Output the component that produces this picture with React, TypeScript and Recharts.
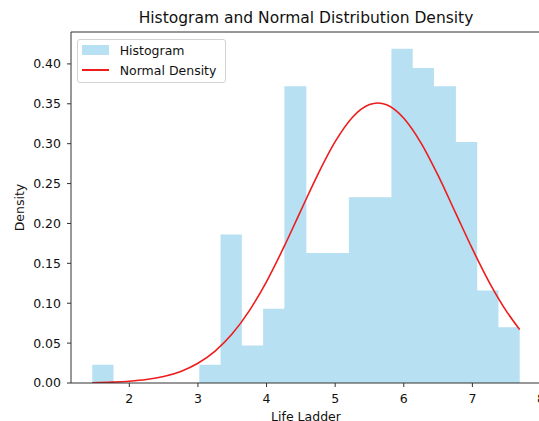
import { ComposedChart, Area, Line, XAxis, YAxis, ReferenceLine, Legend, Label } from "recharts";

// histogram bin edges (Life Ladder) and density per bin
const binEdges = [1.46, 1.77, 2.08, 2.39, 2.71, 3.02, 3.33, 3.64, 3.95, 4.26, 4.58, 4.89, 5.2, 5.51, 5.82, 6.13, 6.44, 6.76, 7.07, 7.38, 7.69];
const binDensity = [0.023, 0, 0, 0, 0, 0.023, 0.186, 0.047, 0.093, 0.372, 0.163, 0.163, 0.233, 0.233, 0.419, 0.395, 0.372, 0.302, 0.116, 0.07];

// normal density curve, sampled along the red line
const curveX = [1.46, 1.75, 2.0, 2.25, 2.5, 2.75, 3.0, 3.25, 3.5, 3.75, 4.0, 4.25, 4.5, 4.75, 5.0, 5.25, 5.5, 5.62, 5.75, 6.0, 6.25, 6.5, 6.75, 7.0, 7.25, 7.5, 7.69];
const curveY = [0.0004, 0.0011, 0.0022, 0.0043, 0.0081, 0.0145, 0.0247, 0.04, 0.0617, 0.0908, 0.1272, 0.1699, 0.2161, 0.2619, 0.3025, 0.3329, 0.349, 0.351, 0.3487, 0.3319, 0.3011, 0.2602, 0.2142, 0.1681, 0.1256, 0.0895, 0.0669];

const xTicks = [2, 3, 4, 5, 6, 7, 8];
const yTicks = [0, 0.05, 0.1, 0.15, 0.2, 0.25, 0.3, 0.35, 0.4];

const FONT = "'DejaVu Sans', sans-serif";
const HIST_COLOR = "#b7e0f2";
const LINE_COLOR = "#ee1c1c";
const SPINE = "#333";

const histData = binEdges.map((x, i) => ({ x, density: i < binDensity.length ? binDensity[i] : 0 }));
const curveData = curveX.map((x, i) => ({ x, y: curveY[i] }));

const LegendBox = () => (
  <div
    style={{
      position: "relative",
      width: 149,
      height: 44,
      boxSizing: "border-box",
      border: "1px solid #d2d2d2",
      borderRadius: 3,
      background: "rgba(255,255,255,0.8)",
      fontFamily: FONT,
      fontSize: 12.5,
      color: "#111",
    }}
  >
    <div style={{ position: "absolute", left: 4.4, top: 5.4, width: 26.3, height: 9.3, background: HIST_COLOR }} />
    <div style={{ position: "absolute", left: 41.7, top: 3.1, lineHeight: "15px", whiteSpace: "nowrap" }}>Histogram</div>
    <div style={{ position: "absolute", left: 4.4, top: 29.2, width: 26.3, height: 1.6, background: LINE_COLOR }} />
    <div style={{ position: "absolute", left: 41.7, top: 22.7, lineHeight: "15px", whiteSpace: "nowrap" }}>Normal Density</div>
  </div>
);

const YLabel = (props: any) => {
  const vb = props.viewBox;
  const x = vb.x + 13;
  const y = vb.y + vb.height / 2;
  return (
    <text x={x} y={y} transform={`rotate(-90, ${x}, ${y})`} textAnchor="middle" fontSize={12.5} fill="#111" fontFamily={FONT}>
      Density
    </text>
  );
};

export default function App() {
  return (
    <div style={{ position: "absolute", left: 0, top: 0, width: 539, height: 421, overflow: "hidden", background: "#fff", fontFamily: FONT }}>
      <div
        style={{
          position: "absolute",
          left: 0,
          width: 612,
          top: 8.6,
          textAlign: "center",
          fontSize: 15.5,
          lineHeight: "18px",
          color: "#111",
          whiteSpace: "nowrap",
        }}
      >
        Histogram and Normal Distribution Density
      </div>
      <ComposedChart width={560} height={421} margin={{ top: 32, right: 19, bottom: 0, left: 11 }}>
        <XAxis
          dataKey="x"
          type="number"
          domain={[1.15, 8.0]}
          ticks={xTicks}
          allowDataOverflow
          height={38}
          tickSize={4}
          tickMargin={7}
          axisLine={{ stroke: SPINE }}
          tickLine={{ stroke: SPINE }}
          tick={{ fill: "#111", fontSize: 12.5, fontFamily: FONT }}
        >
          <Label value="Life Ladder" position="insideBottom" offset={0} fontSize={12.5} fill="#111" fontFamily={FONT} />
        </XAxis>
        <YAxis
          type="number"
          domain={[0, 0.44]}
          ticks={yTicks}
          allowDataOverflow
          width={60}
          tickSize={4}
          tickMargin={6}
          tickFormatter={(v: number) => v.toFixed(2)}
          axisLine={{ stroke: SPINE }}
          tickLine={{ stroke: SPINE }}
          tick={{ fill: "#111", fontSize: 12.5, fontFamily: FONT }}
        >
          <Label content={<YLabel />} />
        </YAxis>
        <Area
          data={histData}
          dataKey="density"
          type="stepAfter"
          fill={HIST_COLOR}
          fillOpacity={1}
          stroke="none"
          isAnimationActive={false}
        />
        <Line
          data={curveData}
          dataKey="y"
          type="monotone"
          stroke={LINE_COLOR}
          strokeWidth={1.6}
          dot={false}
          activeDot={false}
          isAnimationActive={false}
        />
        <ReferenceLine y={0.44} stroke={SPINE} strokeWidth={1} />
        <ReferenceLine x={8} stroke={SPINE} strokeWidth={1} />
        <Legend
          layout="vertical"
          align="center"
          verticalAlign="middle"
          wrapperStyle={{ left: 77, top: 39, width: 149, height: 44 }}
          content={<LegendBox />}
        />
      </ComposedChart>
    </div>
  );
}
